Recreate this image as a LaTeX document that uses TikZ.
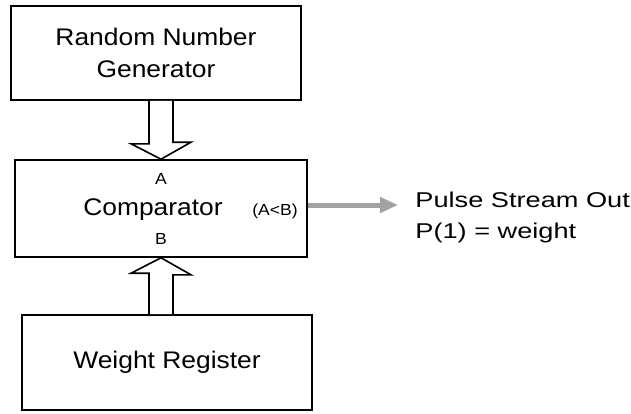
\documentclass[tikz,border=0pt]{standalone}
\usepackage{fontspec}
\setmainfont{Liberation Sans}[FakeStretch=1.1]
\newfontfamily\widesans{Liberation Sans}[FakeStretch=1.27]
\usetikzlibrary{positioning,arrows.meta,calc}
\definecolor{PulseGray}{HTML}{A2A2A2}

\begin{document}
\begin{tikzpicture}[x=0.5pt, y=-0.5pt,
        blk/.style={draw=black, thick, minimum width=145pt, minimum height=47pt,
                    align=center, inner sep=0pt, font=\fontsize{12}{16}\selectfont},
        port/.style={inner sep=0pt, font=\fontsize{8}{9}\selectfont},
        bus/.style={draw=black, thick, fill=white, line join=miter},
        pulse/.style={draw=PulseGray, line width=2.5pt,
                      -{Triangle[length=9pt, width=7.5pt]}},
        outtxt/.style={anchor=base west, inner sep=0pt,
                       font=\widesans\fontsize{10.7}{12}\selectfont},
      ]
      \useasboundingbox (0,0) rectangle (631,413);

      \node[blk] (rng) at (156,53) {Random Number\\Generator};
      \node[blk, minimum width=146pt, minimum height=48.5pt] (cmp) at (161,208.5) {};
      \node[blk, minimum height=47.5pt] (wreg) at (167,362.5) {Weight Register};

      \node[blk, draw=none, minimum width=0pt, minimum height=0pt] (cmptxt) at (153,210) {Comparator};
      \node[port] (porta) at (161,179) {A};
      \node[port] (portb) at (161,238.5) {B};
      \node[port] (altb) at (275,211) {(A<B)};

      % hollow bus arrows
      \draw[bus] ($(cmp.north |- rng.south)+(-12,0)$) -- ++(0,43) -- ++(-18,0)
            -- (cmp.north) -- ++(30,-17) -- ++(-18,0)
            -- ($(cmp.north |- rng.south)+(12,0)$);
      \draw[bus] ($(cmp.south |- wreg.north)+(-12,0)$) -- ++(0,-41) -- ++(-18,0)
            -- (cmp.south) -- ++(30,17) -- ++(-18,0)
            -- ($(cmp.south |- wreg.north)+(12,0)$);

      % output
      \coordinate (pulsetip) at (398,205);
      \draw[pulse] (cmp.east |- pulsetip) -- (pulsetip);
      \node[outtxt] (pulseout) at (415,207) {Pulse Stream Out};
      \node[outtxt] (pweight) at (415,238) {P(1) = weight};
    \end{tikzpicture}
\end{document}
